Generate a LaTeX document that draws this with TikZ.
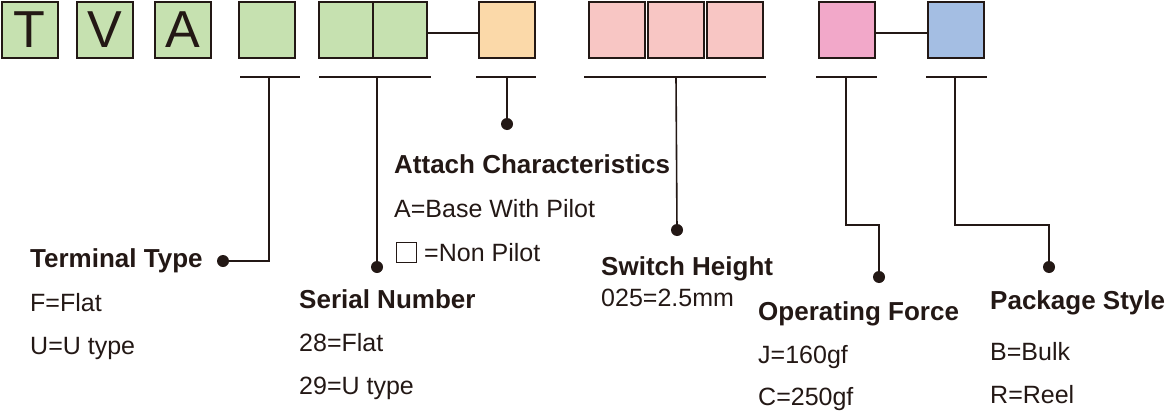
\documentclass[tikz,border=0pt]{standalone}
\usepackage{fontspec}
\setmainfont{Liberation Sans}
\definecolor{ink}{HTML}{231815}
\definecolor{cgreen}{HTML}{C6E1B0}
\definecolor{corange}{HTML}{FBD9A9}
\definecolor{cpink}{HTML}{F8C6C4}
\definecolor{cmag}{HTML}{F2A8C9}
\definecolor{cblue}{HTML}{A4BEE3}
\begin{document}
\begin{tikzpicture}[x=1pt,y=-1pt,
  box/.style={draw=ink,line width=2pt,minimum width=56pt,minimum height=56pt,inner sep=0pt,
    font=\fontsize{52}{52}\selectfont,text=ink},
  bar/.style={draw=ink,line width=2pt},
  lead/.style={draw=ink,line width=1.6pt},
  dot/.style={circle,fill=ink,inner sep=0pt,minimum size=12pt},
  head/.style={anchor=base west,inner sep=0pt,text=ink,font=\fontsize{26}{30}\selectfont\bfseries},
  item/.style={anchor=base west,inner sep=0pt,text=ink,font=\fontsize{25}{30}\selectfont},
  blank/.style={draw=ink,line width=1pt,minimum size=20pt,inner sep=0pt}]
\useasboundingbox (0,0) rectangle (1167,415);
% boxes
\node[box,fill=cgreen] (bT) at (29.5,30) {T};
\node[box,fill=cgreen] (bV) at (105,30) {V};
\node[box,fill=cgreen] (bA) at (183,30) {A};
\node[box,fill=cgreen] (b4) at (266.5,30) {};
\node[box,fill=cgreen,minimum width=54pt] (s1) at (346,30) {};
\node[box,fill=cgreen,minimum width=54pt] (s2) at (400,30) {};
\node[box,fill=corange] (o1) at (507,30) {};
\node[box,fill=cpink,minimum width=56.7pt] (p1) at (617,30) {};
\node[box,fill=cpink,minimum width=56.7pt] (p2) at (676,30) {};
\node[box,fill=cpink,minimum width=56.7pt] (p3) at (735,30) {};
\node[box,fill=cmag] (m1) at (847,30) {};
\node[box,fill=cblue] (u1) at (955.5,30) {};
\draw[lead] ([yshift=-3pt]s2.east) -- ([yshift=-3pt]o1.west);
\draw[lead] ([yshift=-3pt]m1.east) -- ([yshift=-3pt]u1.west);
% bars
\coordinate (t4l) at (240,77); \coordinate (t4r) at (300,77); \coordinate (t4) at (269,77);
\coordinate (tsl) at (319,77); \coordinate (tsr) at (431,77); \coordinate (ts) at (377,77);
\coordinate (tol) at (476,77); \coordinate (tor) at (536,77); \coordinate (to) at (507,77);
\coordinate (tpl) at (584,77); \coordinate (tpr) at (766,77); \coordinate (tp) at (676,77);
\coordinate (tml) at (816,77); \coordinate (tmr) at (877,77); \coordinate (tm) at (846,77);
\coordinate (tul) at (926,77); \coordinate (tur) at (987,77); \coordinate (tu) at (955,77);
\foreach \a in {4,s,o,p,m,u} {\draw[bar] (t\a l) -- (t\a r);}
% dots
\node[dot] (d4) at (223,261) {};
\node[dot] (ds) at (377,267) {};
\node[dot] (do) at (507,124) {};
\node[dot] (dp) at (677,230) {};
\node[dot] (dm) at (879,277) {};
\node[dot] (du) at (1049,267) {};
\coordinate (km) at (846,225);
\coordinate (ku) at (955,225);
% leads
\draw[lead] (t4) |- (d4.center);
\draw[lead] (ts) -- (ds.center);
\draw[lead] (to) -- (do.center);
\draw[lead] (tp) -- (dp.center);
\draw[lead] (tm) -- (km) -| (dm.center);
\draw[lead] (tu) -- (ku) -| (du.center);
% texts
\node[head] (h1) at (30,267) {Terminal Type};
\node[item] (h1a) at (30,311) {F=Flat};
\node[item] (h1b) at (30,354) {U=U type};
\node[head] (h2) at (299,308) {Serial Number};
\node[item] (h2a) at (299,351) {28=Flat};
\node[item] (h2b) at (299,394) {29=U type};
\node[head] (h3) at (394,173) {Attach Characteristics};
\node[item] (h3a) at (394,217) {A=Base With Pilot};
\node[blank] (sq) at (406,252) {};
\node[item] (h3b) at (424,261) {=Non Pilot};
\node[head] (h4) at (601,275) {Switch Height};
\node[item] (h4a) at (601,306) {025=2.5mm};
\node[head] (h5) at (758,320) {Operating Force};
\node[item] (h5a) at (758,363) {J=160gf};
\node[item] (h5b) at (758,405) {C=250gf};
\node[head] (h6) at (990,309) {Package Style};
\node[item] (h6a) at (990,360) {B=Bulk};
\node[item] (h6b) at (990,403) {R=Reel};
\end{tikzpicture}
\end{document}
